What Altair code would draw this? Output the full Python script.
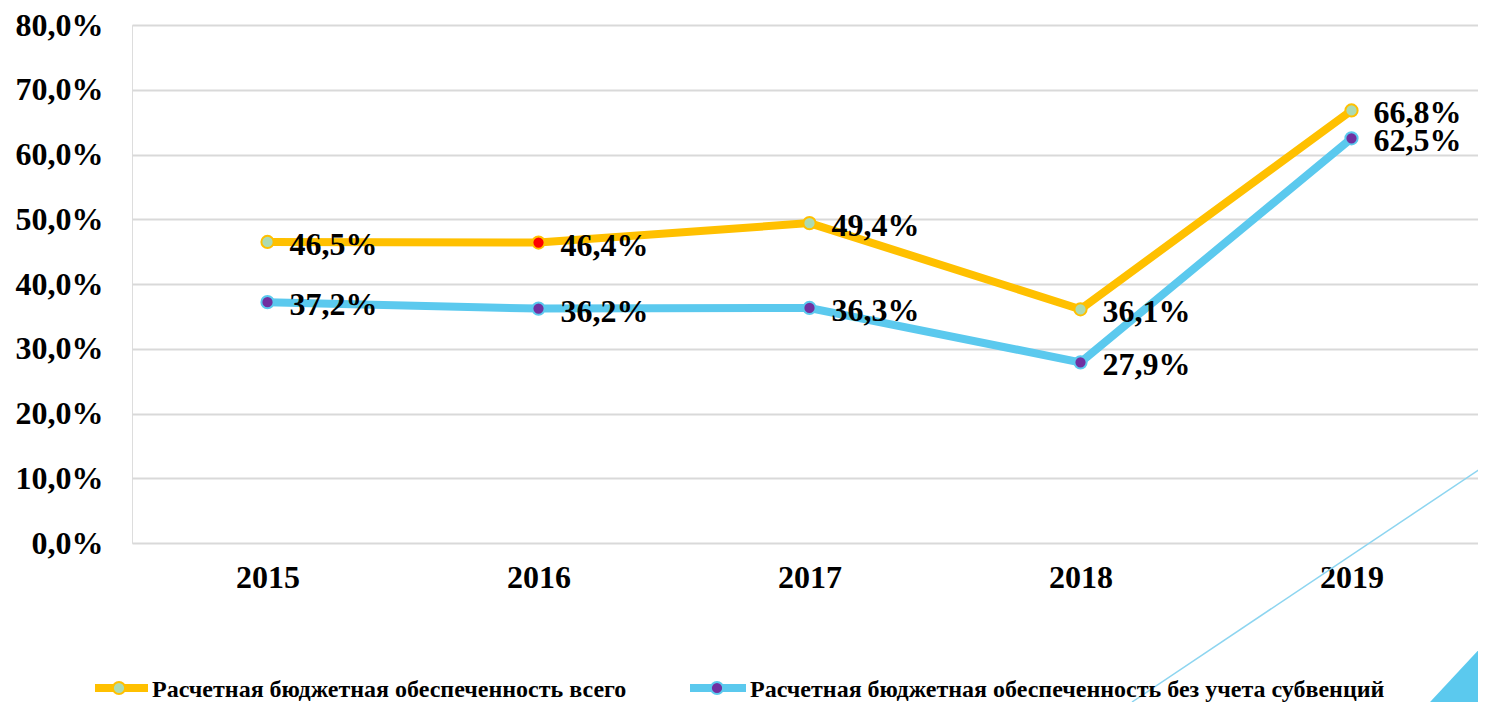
import altair as alt
import pandas as pd

years = ["2015", "2016", "2017", "2018", "2019"]
total = [46.5, 46.4, 49.4, 36.1, 66.8]
no_subv = [37.2, 36.2, 36.3, 27.9, 62.5]
series_names = [
    "Расчетная бюджетная обеспеченность всего",
    "Расчетная бюджетная обеспеченность без учета субвенций",
]
line_colors = ["#FFC000", "#5BC9EE"]
total_point_fills = ["#ACDBB3", "#FF0000", "#ACDBB3", "#ACDBB3", "#ACDBB3"]
nosub_point_fills = ["#7030A0"] * 5

FONT = "Liberation Serif"


def fmt(v):
    return f"{v:.1f}".replace(".", ",") + "%"


rows = []
for i, y in enumerate(years):
    rows.append(dict(year=y, value=total[i], series=series_names[0],
                     fill=total_point_fills[i], label=fmt(total[i])))
for i, y in enumerate(years):
    rows.append(dict(year=y, value=no_subv[i], series=series_names[1],
                     fill=nosub_point_fills[i], label=fmt(no_subv[i])))
df = pd.DataFrame(rows)

color_scale = alt.Scale(domain=series_names, range=line_colors)

x_enc = alt.X("year:O", scale=alt.Scale(type="point", padding=0.5, range=[0, 1355]),
              axis=alt.Axis(title=None, labelAngle=0, domain=False, ticks=False,
                            grid=False, labelFont=FONT, labelFontSize=32,
                            labelFontWeight="bold", labelColor="#000000",
                            labelPadding=19))
y_enc = alt.Y("value:Q", scale=alt.Scale(domain=[0, 80], nice=False),
              axis=alt.Axis(title=None, values=list(range(0, 90, 10)),
                            domain=False, ticks=False, grid=True,
                            gridColor="#D9D9D9", gridWidth=2,
                            labelFont=FONT, labelFontSize=32, labelFontWeight="bold",
                            labelColor="#000000", labelPadding=29,
                            labelExpr="replace(format(datum.value, '.1f'), '.', ',') + '%'"))

base = alt.Chart(df)

lines = base.mark_line(strokeWidth=8).encode(
    x=x_enc, y=y_enc,
    color=alt.Color("series:N", scale=color_scale, legend=None),
    detail="series:N",
)

points = base.mark_circle(size=150, strokeWidth=2, opacity=1).encode(
    x="year:O", y="value:Q",
    fill=alt.Fill("fill:N", scale=None),
    stroke=alt.Stroke("series:N", scale=color_scale, legend=None),
)

labels = base.mark_text(align="left", baseline="middle", dx=22, dy=3,
                        font=FONT, fontSize=32, fontWeight="bold",
                        color="#000000").encode(
    x="year:O", y="value:Q", text="label:N")

# decorative slide elements
deco_df = pd.DataFrame({"k": [0]})
deco_line = alt.Chart(deco_df).mark_rule(color="#8DD5F0", strokeWidth=1.5).encode(
    x=alt.value(1000), y=alt.value(677), x2=alt.value(1354), y2=alt.value(440))
deco_tri = alt.Chart(deco_df).mark_point(
    shape="M1,-1 L1,1 L-0.86,1 Z", filled=True, fill="#5BC9EE", opacity=1,
    size=4225, strokeWidth=0).encode(x=alt.value(1326), y=alt.value(644.5))

# legend
leg_y = 663
leg_layers = []
leg_specs = [(-37, 16, -13, 20), (558, 614, 585, 618)]
for i, (x1, x2, px, tx) in enumerate(leg_specs):
    ldf = pd.DataFrame({"name": [series_names[i]]})
    fill_c = total_point_fills[0] if i == 0 else nosub_point_fills[0]
    leg_layers.append(alt.Chart(ldf).mark_rule(color=line_colors[i], strokeWidth=8).encode(
        x=alt.value(x1), x2=alt.value(x2), y=alt.value(leg_y)))
    leg_layers.append(alt.Chart(ldf).mark_circle(size=150, fill=fill_c, stroke=line_colors[i],
                                                 strokeWidth=2, opacity=1).encode(
        x=alt.value(px), y=alt.value(leg_y)))
    leg_layers.append(alt.Chart(ldf).mark_text(align="left", baseline="alphabetic", font=FONT,
                                               fontSize=24, fontWeight="bold",
                                               color="#000000").encode(
        x=alt.value(tx), y=alt.value(672), text="name:N"))

chart = alt.layer(lines, points, labels, deco_line, deco_tri, *leg_layers).properties(
    width=1346, height=518,
    padding={"left": 124, "top": 17, "right": 0, "bottom": 159},
    autosize=alt.AutoSizeParams(type="none"),
).configure_view(stroke=None).configure(background="#FFFFFF")

chart.save("out.html", embed_options={"renderer": "svg", "actions": False})
